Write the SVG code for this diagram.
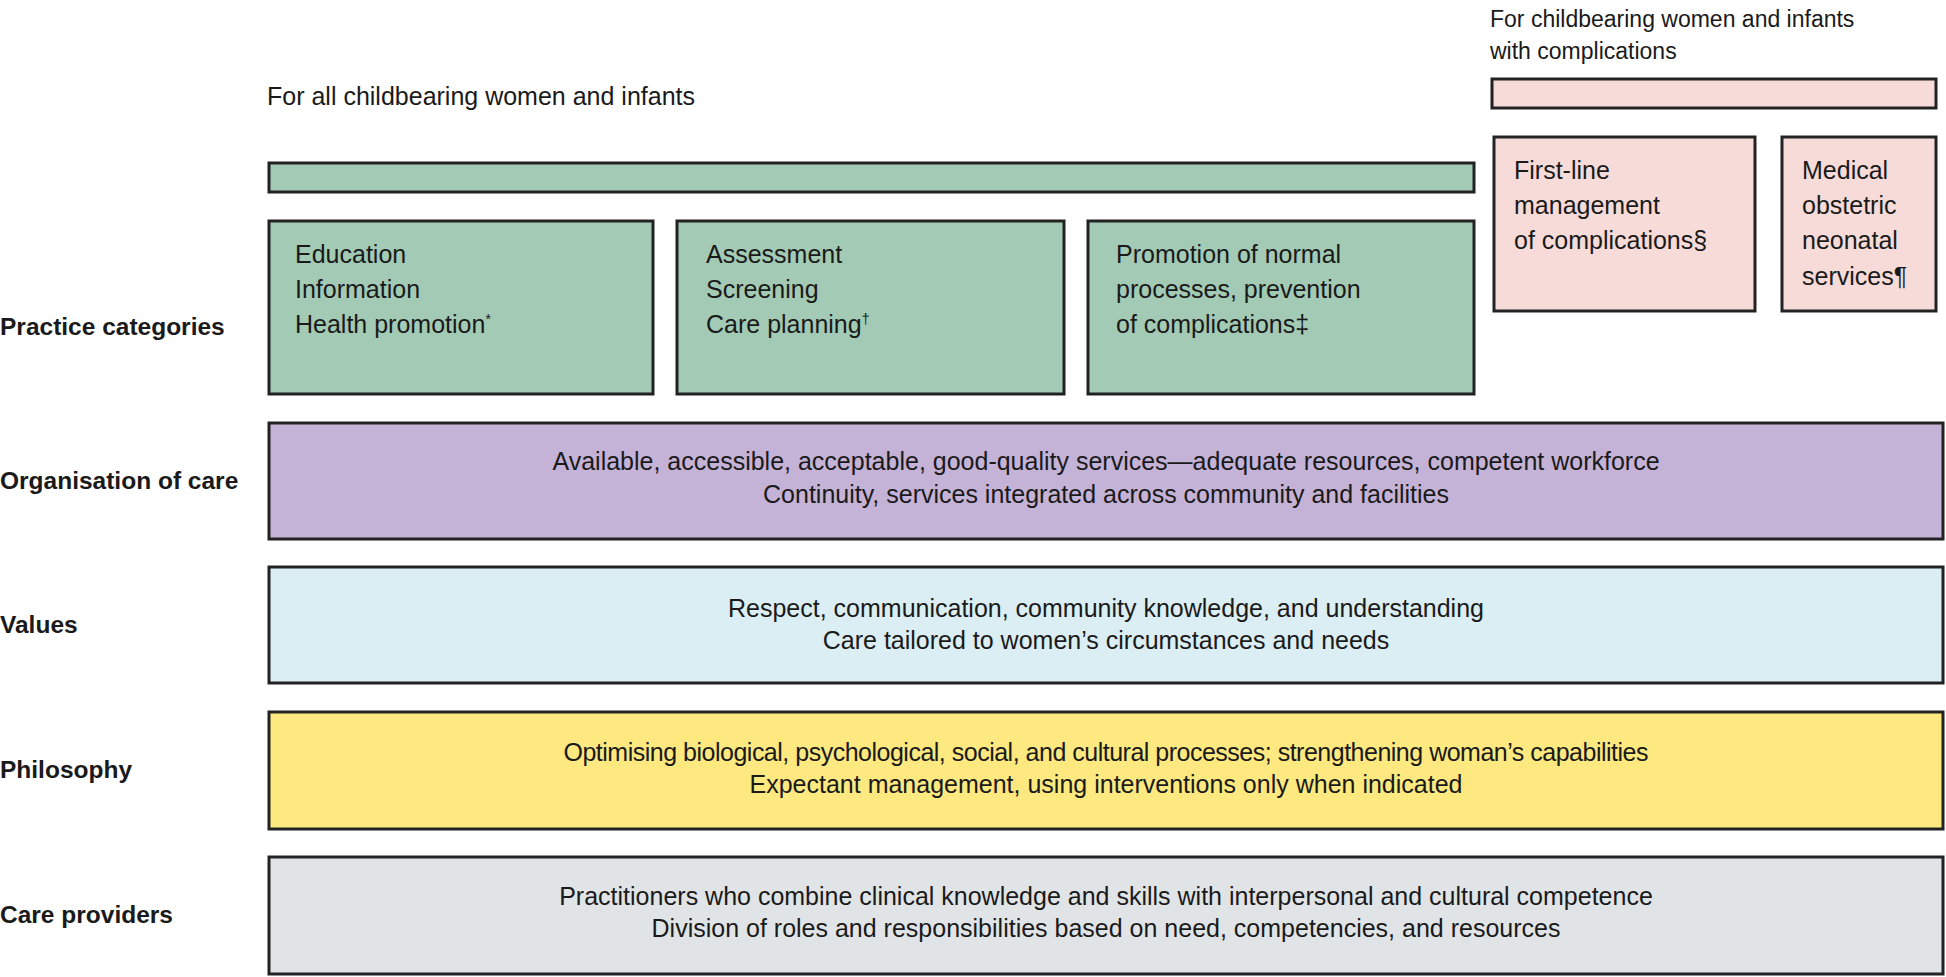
<svg xmlns="http://www.w3.org/2000/svg" width="1946" height="977" viewBox="0 0 1946 977">
<style>
.t{font-family:"Liberation Sans",Arial,sans-serif;font-size:25px;fill:#1a1a1a}
.c{text-anchor:middle}
.h2{font-size:23px}
.sup{font-size:14px}
.lbl{font-family:"Liberation Sans",Arial,sans-serif;font-size:24.5px;font-weight:bold;fill:#1a1a1a}
.box{stroke:#222;stroke-width:3}
.g{fill:#a3cab5}
.p{fill:#f6dbd8}
.pu{fill:#c5b3d7}
.b{fill:#daeef4}
.y{fill:#fde97f}
.gr{fill:#e1e4e7}
</style>
<rect width="1946" height="977" fill="#fff"/>
<g id="headers">
<text class="t" x="267" y="105">For all childbearing women and infants</text>
<text class="t h2" x="1490" y="27">For childbearing women and infants</text>
<text class="t h2" x="1490" y="59">with complications</text>
</g>
<g id="bars">
<rect class="box g" x="269" y="163" width="1205" height="29"/>
<rect class="box p" x="1492" y="79" width="444" height="29"/>
</g>
<g id="labels">
<text class="lbl" x="0" y="335">Practice categories</text>
<text class="lbl" x="0" y="489">Organisation of care</text>
<text class="lbl" x="0" y="633">Values</text>
<text class="lbl" x="0" y="778">Philosophy</text>
<text class="lbl" x="0" y="923">Care providers</text>
</g>
<g id="node-education">
<rect class="box g" x="269" y="221" width="384" height="173"/>
<text class="t" x="295" y="263">Education</text>
<text class="t" x="295" y="298">Information</text>
<text class="t" x="295" y="333">Health promotion<tspan class="sup" dy="-9">*</tspan></text>
</g>
<g id="node-assessment">
<rect class="box g" x="677" y="221" width="387" height="173"/>
<text class="t" x="706" y="263">Assessment</text>
<text class="t" x="706" y="298">Screening</text>
<text class="t" x="706" y="333">Care planning<tspan class="sup" dy="-9">†</tspan></text>
</g>
<g id="node-promotion">
<rect class="box g" x="1088" y="221" width="386" height="173"/>
<text class="t" x="1116" y="263">Promotion of normal</text>
<text class="t" x="1116" y="298">processes, prevention</text>
<text class="t" x="1116" y="333">of complications‡</text>
</g>
<g id="node-firstline">
<rect class="box p" x="1494" y="137" width="261" height="174"/>
<text class="t" x="1514" y="179">First-line</text>
<text class="t" x="1514" y="214">management</text>
<text class="t" x="1514" y="249">of complications§</text>
</g>
<g id="node-medical">
<rect class="box p" x="1782" y="137" width="154" height="174"/>
<text class="t" x="1802" y="179">Medical</text>
<text class="t" x="1802" y="214">obstetric</text>
<text class="t" x="1802" y="249">neonatal</text>
<text class="t" x="1802" y="285">services¶</text>
</g>
<g id="node-organisation">
<rect class="box pu" x="269" y="423" width="1674" height="116"/>
<text class="t c" x="1106" y="470">Available, accessible, acceptable, good-quality services—adequate resources, competent workforce</text>
<text class="t c" x="1106" y="503">Continuity, services integrated across community and facilities</text>
</g>
<g id="node-values">
<rect class="box b" x="269" y="567" width="1674" height="116"/>
<text class="t c" x="1106" y="617">Respect, communication, community knowledge, and understanding</text>
<text class="t c" x="1106" y="649">Care tailored to women’s circumstances and needs</text>
</g>
<g id="node-philosophy">
<rect class="box y" x="269" y="712" width="1674" height="117"/>
<text class="t c" x="1106" y="761" textLength="1085" lengthAdjust="spacing">Optimising biological, psychological, social, and cultural processes; strengthening woman’s capabilities</text>
<text class="t c" x="1106" y="793">Expectant management, using interventions only when indicated</text>
</g>
<g id="node-careproviders">
<rect class="box gr" x="269" y="857" width="1674" height="117"/>
<text class="t c" x="1106" y="905">Practitioners who combine clinical knowledge and skills with interpersonal and cultural competence</text>
<text class="t c" x="1106" y="937">Division of roles and responsibilities based on need, competencies, and resources</text>
</g>
<g id="connectors"/>
</svg>
